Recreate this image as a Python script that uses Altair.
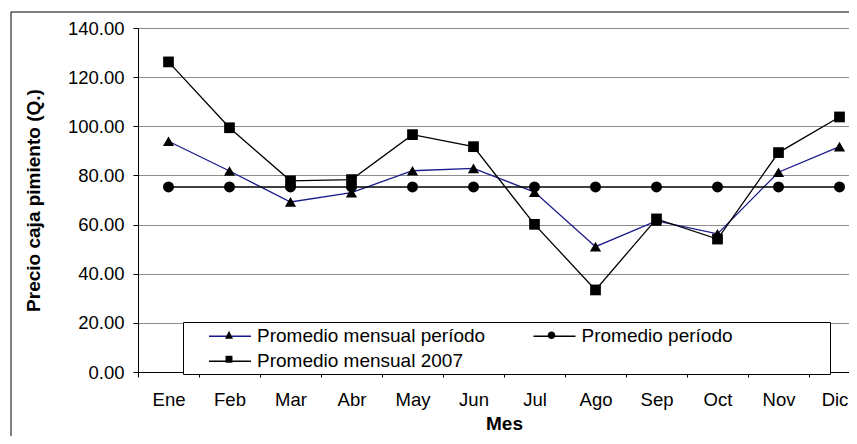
import altair as alt
import pandas as pd

# ---- data ----
meses = ["Ene", "Feb", "Mar", "Abr", "May", "Jun", "Jul", "Ago", "Sep", "Oct", "Nov", "Dic"]
series = ["Promedio mensual período", "Promedio período", "Promedio mensual 2007"]
codigos = ["T", "C", "S"]
mensual_periodo = [93.9, 81.8, 69.2, 73.0, 81.9, 82.9, 73.2, 51.0, 61.5, 56.2, 81.3, 91.7]
promedio_periodo = [75.3, 75.3, 75.3, 75.3, 75.3, 75.3, 75.3, 75.3, 75.3, 75.3, 75.3, 75.3]
mensual_2007 = [126.2, 99.4, 77.8, 78.3, 96.6, 91.7, 60.1, 33.4, 62.3, 54.1, 89.3, 103.8]
y_ticks = [0, 20, 40, 60, 80, 100, 120, 140]

valores = [mensual_periodo, promedio_periodo, mensual_2007]
rows = []
for s, c, vals in zip(series, codigos, valores):
    for m, v in zip(meses, vals):
        rows.append({"mes": m, "serie": s, "codigo": c, "valor": v})
df = pd.DataFrame(rows)

# ---- styles ----
FONT = "Liberation Sans"
colores = ["#1a1a8a", "#000000", "#000000"]
formas = ["triangle-up", "circle", "square"]
tamanos = [125, 115, 80]

# legend order (column-major, 2 columns): triangle, square | circle
leg_series = ["Promedio mensual período", "Promedio mensual 2007", "Promedio período"]
leg_colores = ["#1a1a8a", "#000000", "#000000"]
leg_codigos = ["T", "S", "C"]
leg_marcas = [
    "M0,-0.42L0.38,0.34L-0.38,0.34Z",
    "M-0.33,-0.33H0.33V0.33H-0.33Z",
    "M-0.36,0A0.36,0.36,0,1,1,0.36,0A0.36,0.36,0,1,1,-0.36,0Z",
]
label_expr_b = ("datum.label == 'T' ? 'Promedio mensual período' : "
                "(datum.label == 'S' ? 'Promedio mensual 2007' : 'Promedio período')")

leg_common = dict(
    orient="none", legendX=45, legendY=294, columns=2,
    padding=2.5, symbolSize=441, symbolOffset=33, labelOffset=15.5,
    columnPadding=24.5, rowPadding=3.25,
    labelFont=FONT, labelFontSize=19, labelLimit=0,
    symbolOpacity=1,
)

W_VIS = 711      # visible plot width (clipped by the page edge)
W_FULL = 732     # full width of the 12 month bands

x_enc = alt.X(
    "mes:N", sort=meses, bandPosition=0.5,
    scale=alt.Scale(type="band", domain=meses, paddingInner=0, paddingOuter=0,
                    range=[0, W_FULL]),
    axis=alt.Axis(title="Mes", labelAngle=0, tickBand="extent", grid=False,
                  tickSize=5, labelPadding=13, titlePadding=6,
                  labelOffset={"condition": {"test": "datum.value === 'Dic'", "value": -5},
                               "value": 0},
                  titleFontWeight="bold", titleX=366),
)
y_enc = alt.Y(
    "valor:Q",
    scale=alt.Scale(domain=[0, 140], nice=False, zero=True),
    axis=alt.Axis(values=y_ticks, format=".2f", title="Precio caja pimiento (Q.)",
                  grid=True, tickSize=5, labelPadding=9, titlePadding=24,
                  titleFontWeight="bold"),
)

base = alt.Chart(df)

lines = base.mark_line(strokeWidth=1.3).encode(
    x=x_enc, y=y_enc,
    stroke=alt.Stroke(
        "serie:N", scale=alt.Scale(domain=leg_series, range=leg_colores),
        legend=alt.Legend(title="MMMMMM", titleOrient="right", titleColor="transparent",
                          titleFont=FONT, titleFontSize=19, titlePadding=0,
                          symbolType="M-2,0H2", symbolStrokeWidth=1.3,
                          strokeColor="black", fillColor="white", zindex=1,
                          labelColor="black", **leg_common),
    ),
)

points = base.mark_point(filled=True, fill="black", strokeOpacity=0, opacity=1).encode(
    x=x_enc, y=y_enc,
    shape=alt.Shape("serie:N", scale=alt.Scale(domain=series, range=formas), legend=None),
    size=alt.Size("serie:O", scale=alt.Scale(domain=series, range=tamanos), legend=None),
)

marker_legend = base.mark_point(filled=True, fill="black", opacity=0).encode(
    x=x_enc, y=y_enc,
    shape=alt.Shape(
        "codigo:N", scale=alt.Scale(domain=leg_codigos, range=leg_marcas),
        legend=alt.Legend(title=None, zindex=2, labelColor="transparent",
                          symbolStrokeWidth=0, symbolFillColor="black",
                          labelExpr=label_expr_b, **leg_common),
    ),
)

frame = alt.Chart(alt.Data(values=[{"k": 1}])).mark_rect(
    filled=False, stroke="black", strokeWidth=1
).encode(
    x=alt.value(-127), x2=alt.value(740), y=alt.value(-16), y2=alt.value(430)
)

chart = alt.layer(frame, lines, points, marker_legend).resolve_scale(
    shape="independent"
).properties(
    width=W_VIS, height=344,
    autosize=alt.AutoSizeParams(type="none"),
    padding={"left": 130, "top": 20, "right": 0, "bottom": 64},
).configure_view(stroke=None).configure_axis(
    labelFont=FONT, titleFont=FONT, labelFontSize=18.5, titleFontSize=19,
    labelColor="black", titleColor="black", domainColor="black", tickColor="black",
    gridColor="#8c8c8c", gridWidth=1, domainWidth=1,
)

chart.save("out.html", embed_options={"renderer": "svg", "actions": False})
